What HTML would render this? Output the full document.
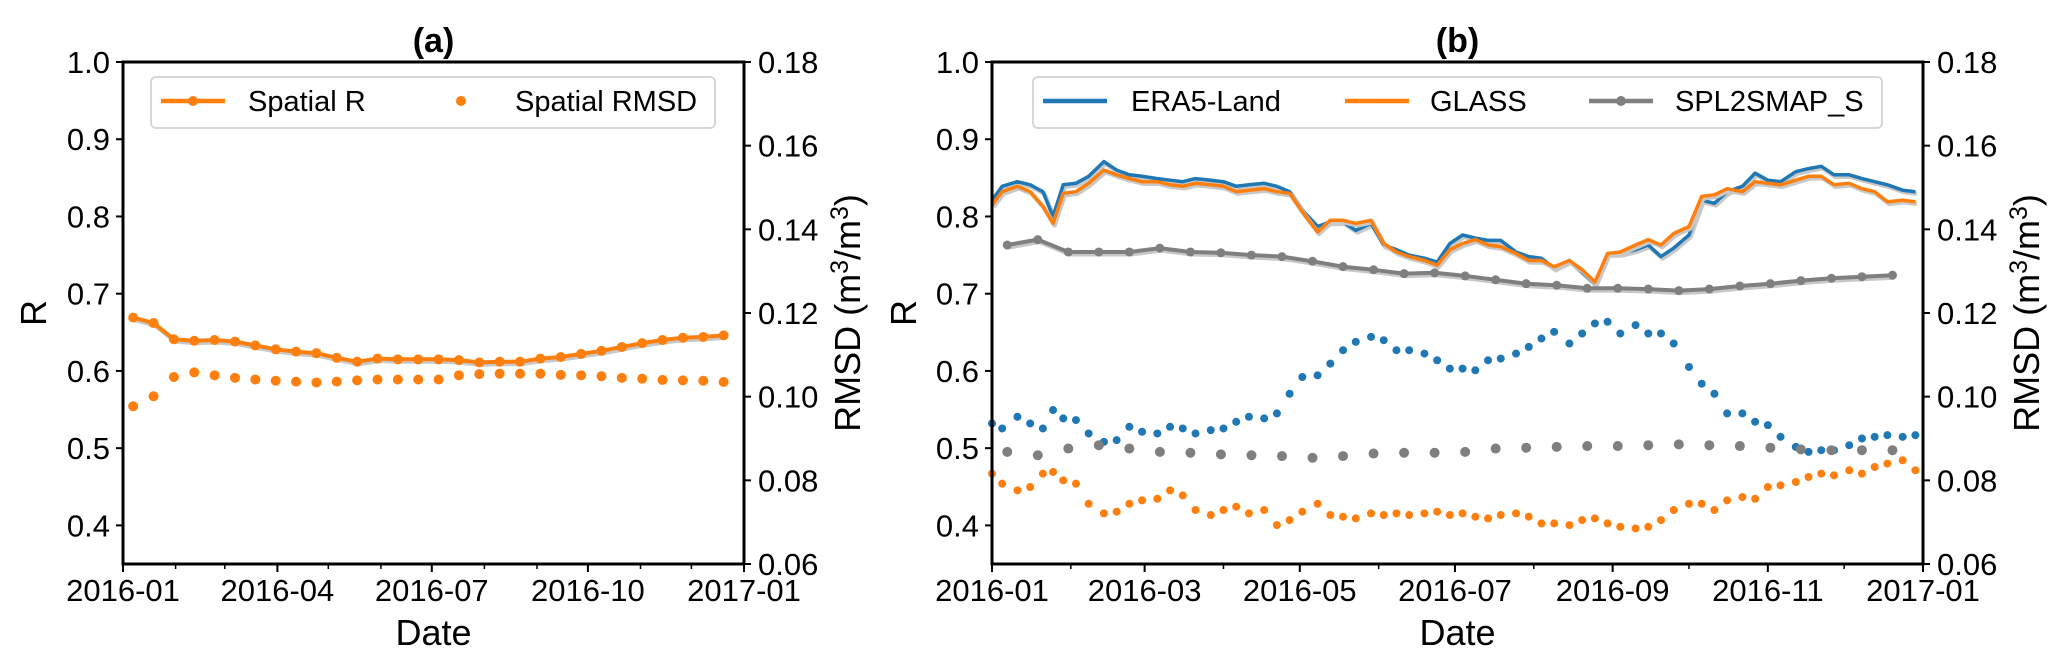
<!DOCTYPE html>
<html><head><meta charset="utf-8">
<style>
html,body{margin:0;padding:0;background:#fff;}
svg{display:block;font-family:"Liberation Sans",sans-serif;}
</style></head>
<body>
<svg id="fig" width="2067" height="663" viewBox="0 0 2067 663" xmlns="http://www.w3.org/2000/svg"></svg>
<script>
// ---------- Panel (a) data ----------
const daysA = [6,18,30,42,54,66,78,90,102,114,126,138,150,162,174,186,198,210,222,234,246,258,270,282,294,306,318,330,342,354];
const spatialR = [0.669,0.662,0.641,0.639,0.640,0.638,0.633,0.628,0.625,0.623,0.617,0.612,0.616,0.615,0.615,0.615,0.614,0.611,0.612,0.612,0.616,0.618,0.622,0.626,0.631,0.636,0.640,0.643,0.644,0.646];
const spatialRMSD = [0.0977,0.1001,0.1047,0.1058,0.1051,0.1045,0.1041,0.1038,0.1036,0.1034,0.1036,0.1039,0.1041,0.1041,0.1041,0.1041,0.1051,0.1054,0.1055,0.1055,0.1055,0.1052,0.1051,0.1049,0.1045,0.1043,0.1040,0.1039,0.1038,0.1035];

// ---------- Panel (b) data ----------
const daysB = [0,4,10,15,20,24,28,33,38,44,49,54,59,65,70,75,80,86,91,96,101,107,112,117,122,128,133,138,143,149,154,159,164,170,175,180,185,190,195,200,206,211,216,221,227,232,237,242,247,253,258,263,268,274,279,284,289,295,300,305,310,316,321,326,331,337,342,347,352,358,363];
const era5R = [0.821,0.839,0.845,0.841,0.832,0.800,0.841,0.843,0.852,0.871,0.860,0.854,0.852,0.849,0.847,0.845,0.849,0.847,0.845,0.839,0.841,0.843,0.839,0.832,0.808,0.787,0.793,0.793,0.782,0.791,0.763,0.757,0.750,0.746,0.741,0.765,0.776,0.772,
 0.769,0.769,0.754,0.748,0.746,0.733,0.743,0.728,0.713,0.752,0.752,0.757,0.763,0.748,0.759,0.776,0.821,0.817,0.832,0.839,0.856,0.847,0.845,0.858,0.862,0.865,0.854,0.854,0.849,0.845,0.841,0.834,0.832];
const glassR = [0.815,0.832,0.839,0.832,0.813,0.791,0.830,0.832,0.843,0.860,0.854,0.849,0.845,0.845,0.841,0.839,0.843,0.841,0.839,0.832,0.834,0.836,0.832,0.830,0.806,0.780,0.795,0.795,0.791,0.795,0.765,0.754,0.748,0.743,0.737,0.757,0.765,0.770,
 0.763,0.761,0.752,0.743,0.743,0.735,0.743,0.731,0.715,0.752,0.754,0.763,0.770,0.763,0.778,0.787,0.826,0.828,0.836,0.832,0.845,0.843,0.841,0.847,0.852,0.852,0.841,0.843,0.836,0.832,0.819,0.821,0.819];
const era5RMSD = [0.0936,0.0924,0.0952,0.0936,0.0924,0.0968,0.0948,0.0944,0.0912,0.0892,0.0896,0.0928,0.0916,0.0912,0.0928,0.0924,0.0912,0.0920,0.0924,0.0940,0.0952,0.0948,0.0960,0.1007,0.1047,0.1051,0.1079,0.1111,0.1131,0.1143,0.1135,0.1111,0.1111,0.1103,0.1087,0.1067,0.1067,0.1063,
 0.1087,0.1091,0.1103,0.1119,0.1139,0.1155,0.1127,0.1151,0.1175,0.1179,0.1151,0.1171,0.1151,0.1151,0.1127,0.1071,0.1031,0.1007,0.0960,0.0960,0.0940,0.0932,0.0904,0.0880,0.0868,0.0872,0.0872,0.0884,0.0900,0.0904,0.0908,0.0904,0.0908];
const glassRMSD = [0.0816,0.0792,0.0776,0.0784,0.0816,0.0820,0.0800,0.0792,0.0744,0.0721,0.0725,0.0744,0.0752,0.0756,0.0776,0.0764,0.0729,0.0717,0.0729,0.0737,0.0721,0.0729,0.0693,0.0705,0.0725,0.0744,0.0717,0.0713,0.0709,0.0721,0.0717,0.0721,0.0717,0.0721,0.0725,0.0717,0.0721,0.0713,
 0.0709,0.0717,0.0721,0.0713,0.0697,0.0697,0.0693,0.0705,0.0709,0.0697,0.0689,0.0685,0.0689,0.0705,0.0729,0.0744,0.0744,0.0729,0.0752,0.0760,0.0756,0.0784,0.0788,0.0796,0.0808,0.0816,0.0812,0.0824,0.0816,0.0832,0.0840,0.0848,0.0824];
const daysSMAP = [6,18,30,42,54,66,78,90,102,114,126,138,150,162,174,186,198,210,222,234,246,258,270,282,294,306,318,330,342,354];
const smapR = [0.763,0.770,0.754,0.754,0.754,0.759,0.754,0.753,0.750,0.748,0.742,0.735,0.731,0.726,0.727,0.723,0.718,0.713,0.711,0.707,0.707,0.706,0.704,0.706,0.710,0.713,0.717,0.720,0.722,0.724];
const smapRMSD = [0.0868,0.0860,0.0876,0.0884,0.0876,0.0868,0.0866,0.0862,0.0860,0.0858,0.0854,0.0858,0.0864,0.0866,0.0866,0.0868,0.0876,0.0878,0.0880,0.0882,0.0882,0.0884,0.0886,0.0884,0.0882,0.0878,0.0874,0.0872,0.0872,0.0872];

// ---------- axis tick data ----------
const monthStarts = [0,31,60,91,121,152,182,213,244,274,305,335,366];
const ticksA = [0,91,182,274,366];
const tickLabelsA = ["2016-01","2016-04","2016-07","2016-10","2017-01"];
const ticksB = [0,60,121,182,244,305,366];
const tickLabelsB = ["2016-01","2016-03","2016-05","2016-07","2016-09","2016-11","2017-01"];
const rTicks = [0.4,0.5,0.6,0.7,0.8,0.9,1.0];
const rmsdTicks = [0.06,0.08,0.10,0.12,0.14,0.16,0.18];

const NS = "http://www.w3.org/2000/svg";
const svg = document.getElementById('fig');
function mk(tag, attrs, parent){
  const e = document.createElementNS(NS, tag);
  for (const k in attrs) e.setAttribute(k, attrs[k]);
  (parent||svg).appendChild(e);
  return e;
}
const BLUE="#1f77b4", ORANGE="#ff7f0e", GRAY="#7f7f7f";

function panel(cfg){
  const g = mk('g', {});
  
  
  const L=cfg.L, R=cfg.R, T=62, B=564;
  const xs = d => L + d/366*(R-L);
  const ys = v => B - (v-0.35)/0.65*(B-T);
  const ys2 = v => B - (v-0.06)/0.12*(B-T);
  cfg.xs=xs; cfg.ys=ys; cfg.ys2=ys2; cfg.g=g;
  const t = mk('text',{x:(L+R)/2,y:52,'text-anchor':'middle','font-size':34,'font-weight':'bold'},g);
  t.textContent = cfg.title;
  
  
  rTicks.forEach(v=>{
    const y=ys(v);
    mk('line',{x1:L-7,x2:L,y1:y,y2:y,stroke:'#000','stroke-width':2},g);
    const tx=mk('text',{x:L-13,y:y+11,'text-anchor':'end','font-size':31},g);
    tx.textContent=v.toFixed(1);
    
    
  });
  rmsdTicks.forEach(v=>{
    const y=ys2(v);
    mk('line',{x1:R,x2:R+7,y1:y,y2:y,stroke:'#000','stroke-width':2},g);
    const tx=mk('text',{x:R+14,y:y+11,'text-anchor':'start','font-size':31},g);
    tx.textContent=v.toFixed(2);
    
    
  });
  monthStarts.forEach(d=>{
    const x=xs(d);
    mk('line',{x1:x,x2:x,y1:B,y2:B+5,stroke:'#000','stroke-width':1.5},g);
  });
  cfg.ticks.forEach((d,i)=>{
    const x=xs(d);
    mk('line',{x1:x,x2:x,y1:B,y2:B+8,stroke:'#000','stroke-width':2},g);
    const tx=mk('text',{x:x,y:601,'text-anchor':'middle','font-size':31},g);
    tx.textContent=cfg.tickLabels[i];
    
    
  });
  const yl=mk('text',{x:0,y:0,'text-anchor':'middle','font-size':36,transform:`translate(${cfg.rx},${(T+B)/2}) rotate(-90)`},g);
  yl.textContent='R';
  
  
  const yr=mk('text',{x:0,y:0,'text-anchor':'middle','font-size':36,transform:`translate(${R+116},${(T+B)/2}) rotate(-90)`},g);
  yr.innerHTML='RMSD (m<tspan dy="-12" font-size="25">3</tspan><tspan dy="12">/m</tspan><tspan dy="-12" font-size="25">3</tspan><tspan dy="12">)</tspan>';
  
  
  const xl=mk('text',{x:(L+R)/2,y:645,'text-anchor':'middle','font-size':36},g);
  xl.textContent='Date';
  
  
  return cfg;
}
function lineSeries(cfg, days, vals, color, w, name, markers){
  const pts = days.map((d,i)=>cfg.xs(d).toFixed(1)+','+cfg.ys(vals[i]).toFixed(1)).join(' ');
  mk('polyline',{points:pts,fill:'none',stroke:'#c8c8c8','stroke-width':w+1,transform:'translate(1.5,2)','stroke-linejoin':'round'},cfg.g);
  const pl=mk('polyline',{points:pts,fill:'none',stroke:color,'stroke-width':w,'stroke-linejoin':'round'},cfg.g);
  
  
  if(markers){
    days.forEach((d,i)=>{
      const c=mk('circle',{cx:cfg.xs(d),cy:cfg.ys(vals[i]),r:markers,fill:color},cfg.g);
      
      
    });
  }
}
function dotSeries(cfg, days, vals, color, r, name){
  days.forEach((d,i)=>{
    const c=mk('circle',{cx:cfg.xs(d),cy:cfg.ys2(vals[i]),r:r,fill:color},cfg.g);
    
    
  });
}
function frame(cfg){
  mk('rect',{x:cfg.L,y:62,width:cfg.R-cfg.L,height:502,fill:'none',stroke:'#000','stroke-width':3},cfg.g);
}
function legend(cfg, x, w, entries){
  const lg=mk('g',{},cfg.g);
  
  
  mk('rect',{x:x,y:77,width:w,height:51,rx:5,fill:'#fff','fill-opacity':0.8,stroke:'#d6d6d6','stroke-width':2},lg);
  entries.forEach(en=>{
    const e=mk('g',{},lg);
    
    
    if(en.line) mk('line',{x1:en.x,x2:en.x+64,y1:101,y2:101,stroke:en.color,'stroke-width':4.5},e);
    if(en.dot) mk('circle',{cx:en.x+32,cy:101,r:5,fill:en.color},e);
    const t=mk('text',{x:en.tx,y:111,'font-size':29},e);
    t.textContent=en.label;
  });
}

// Panel (a)
const A = panel({name:'panel-a',title:'(a)',L:123,R:744,ticks:ticksA,tickLabels:tickLabelsA,rx:46});
dotSeries(A, daysA, spatialRMSD, ORANGE, 5, 'spatial-rmsd-dot');
lineSeries(A, daysA, spatialR, ORANGE, 4, 'spatial-r-line', 5);
frame(A);
legend(A, 151, 564, [
  {x:161,color:ORANGE,line:true,dot:true,tx:248,label:'Spatial R'},
  {x:429,color:ORANGE,line:false,dot:true,tx:515,label:'Spatial RMSD'}
]);

// Panel (b)
const Bp = panel({name:'panel-b',title:'(b)',L:992,R:1923,ticks:ticksB,tickLabels:tickLabelsB,rx:916});
dotSeries(Bp, daysB, era5RMSD, BLUE, 4, 'era5-rmsd-dot');
dotSeries(Bp, daysB, glassRMSD, ORANGE, 4, 'glass-rmsd-dot');
dotSeries(Bp, daysSMAP, smapRMSD, GRAY, 5, 'smap-rmsd-dot');
lineSeries(Bp, daysB, era5R, BLUE, 3.5, 'era5-r-line', 0);
lineSeries(Bp, daysB, glassR, ORANGE, 3.5, 'glass-r-line', 0);
lineSeries(Bp, daysSMAP, smapR, GRAY, 4, 'smap-r-line', 4.5);
frame(Bp);
legend(Bp, 1033, 849, [
  {x:1043,color:BLUE,line:true,dot:false,tx:1131,label:'ERA5-Land'},
  {x:1345,color:ORANGE,line:true,dot:false,tx:1430,label:'GLASS'},
  {x:1589,color:GRAY,line:true,dot:true,tx:1675,label:'SPL2SMAP_S'}
]);
</script>
</body></html>
